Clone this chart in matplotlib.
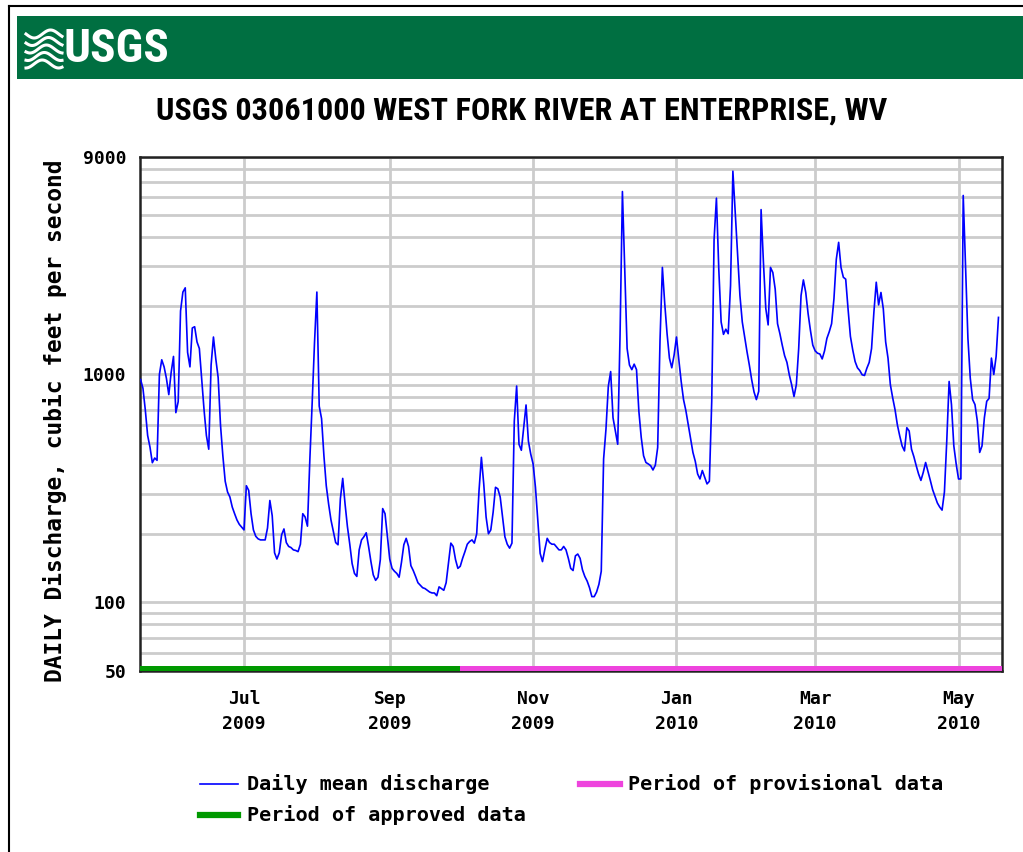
import numpy as np
import pandas as pd
import matplotlib
matplotlib.use("Agg")
import matplotlib.pyplot as plt
from matplotlib.lines import Line2D
from matplotlib.patches import Rectangle

# daily mean discharge (cfs), one value per day starting 2009-05-18
START = "2009-05-18"
discharge = [
    950, 870, 700, 540, 480, 410, 430, 420, 1000, 1160,
    1080, 960, 816, 1020, 1200, 680, 760, 1900, 2300, 2400,
    1250, 1080, 1600, 1620, 1390, 1300, 950, 700, 540, 470,
    1100, 1460, 1170, 970, 600, 440, 340, 305, 290, 262,
    245, 230, 220, 214, 208, 325, 310, 245, 208, 195,
    190, 188, 188, 188, 212, 280, 240, 165, 155, 165,
    198, 210, 183, 176, 174, 170, 169, 167, 180, 245,
    237, 216, 420, 750, 1380, 2300, 726, 640, 440, 325,
    270, 230, 205, 183, 179, 285, 350, 270, 215, 180,
    148, 134, 130, 170, 188, 194, 202, 176, 151, 132,
    125, 129, 154, 258, 245, 194, 155, 141, 137, 134,
    129, 150, 179, 191, 176, 145, 138, 130, 122, 119,
    116, 115, 113, 111, 110, 110, 107, 117, 115, 113,
    122, 149, 182, 176, 154, 141, 144, 156, 167, 180,
    185, 188, 182, 200, 310, 433, 331, 237, 200, 208,
    249, 320, 315, 290, 237, 194, 180, 173, 182, 625,
    890, 494, 465, 584, 735, 510, 447, 405, 320, 230,
    164, 151, 171, 191, 183, 180, 180, 175, 170, 170,
    176, 170, 156, 141, 138, 160, 163, 156, 139, 130,
    124, 116, 106, 106, 111, 120, 137, 426, 575, 887,
    1030, 646, 565, 494, 1500, 6350, 2900, 1300, 1100, 1050,
    1110, 1050, 690, 530, 440, 411, 405, 398, 381, 400,
    478, 1415, 2950, 2050, 1510, 1180, 1070, 1218, 1460, 1160,
    932, 776, 694, 604, 529, 455, 416, 366, 348, 379,
    354, 331, 340, 763, 3910, 5940, 2900, 1700, 1500, 1580,
    1510, 2450, 7800, 5100, 3300, 2220, 1700, 1460, 1260, 1100,
    948, 838, 776, 844, 5290, 3100, 1950, 1650, 2950, 2800,
    2370, 1670, 1510, 1345, 1210, 1130, 997, 902, 800, 902,
    1300, 2220, 2600, 2290, 1850, 1560, 1345, 1270, 1240, 1230,
    1170, 1270, 1440, 1540, 1670, 2150, 3200, 3800, 2950, 2670,
    2620, 1940, 1470, 1280, 1140, 1070, 1040, 997, 990, 1065,
    1130, 1300, 1880, 2540, 2020, 2290, 1940, 1390, 1180, 902,
    789, 700, 600, 537, 486, 462, 584, 565, 470, 436,
    398, 366, 343, 372, 411, 376, 343, 312, 292, 273,
    262, 254, 305, 511, 932, 738, 486, 405, 348, 348,
    6100, 3000, 1440, 964, 776, 738, 625, 455, 486, 646,
    763, 785, 1180, 1000, 1200, 1780,
]
dates = pd.date_range(START, periods=len(discharge), freq="D")

approved_end = pd.Timestamp("2009-10-01")
x_end = pd.Timestamp("2010-05-19 12:00")

tick_dates = pd.to_datetime(["2009-07-01", "2009-09-01", "2009-11-01",
                             "2010-01-01", "2010-03-01", "2010-05-01"])
tick_labels = ["Jul\n2009", "Sep\n2009", "Nov\n2009",
               "Jan\n2010", "Mar\n2010", "May\n2010"]
y_major = [50, 100, 1000, 9000]
y_minor = [60, 70, 80, 90] + list(range(200, 1000, 100)) + list(range(2000, 9000, 1000))

W, H = 1023, 852
MONO = "DejaVu Sans Mono"
NARROW = ["Roboto Condensed", "DejaVu Sans"]
GREEN_HDR = "#006f41"
GRID = "#cccccc"


def fx(px):
    return px / W


def fy(py):
    return 1 - py / H


fig = plt.figure(figsize=(W / 100, H / 100), dpi=100)

# page border + USGS header bar
fig.add_artist(Line2D([fx(9), fx(9)], [fy(6), 0], color="black", lw=1.5))
fig.add_artist(Line2D([fx(9), 1], [fy(6), fy(6)], color="black", lw=1.5))
fig.add_artist(Rectangle((fx(17), fy(79)), 1 - fx(17), fy(16) - fy(79),
                         color=GREEN_HDR, lw=0))
# wave mark
t = np.linspace(0, 1, 40)
for k in range(5):
    yy = 34 + k * 7.5 + 4 * np.sin(2 * np.pi * t * 1.1 + k * 0.4)
    xx = 26 + t * 36
    fig.add_artist(Line2D(fx(xx), fy(yy), color="white", lw=2.2))
fig.text(fx(64), fy(49), "USGS", color="white", fontsize=34,
         family=NARROW, stretch="condensed", weight="bold",
         va="center", ha="left")

fig.text(fx(522), fy(111), "USGS 03061000 WEST FORK RIVER AT ENTERPRISE, WV",
         fontsize=23.2, family=NARROW, stretch="condensed",
         weight="bold", ha="center", va="center")

ax = fig.add_axes([fx(140), fy(671), fx(1002) - fx(140), fy(157) - fy(671)])
ax.set_yscale("log")
ax.set_ylim(50, 9000)
ax.set_xlim(dates[0] - pd.Timedelta(hours=6), x_end)
ax.set_yticks(y_major)
ax.set_yticklabels([str(v) for v in y_major])
ax.set_yticks(y_minor, minor=True)
ax.yaxis.set_minor_formatter(matplotlib.ticker.NullFormatter())
ax.set_xticks(tick_dates)
ax.set_xticklabels(tick_labels)
ax.tick_params(length=0, which="both", labelsize=13, pad=10)
ax.tick_params(axis="x", pad=14)
for lab in ax.get_xticklabels() + ax.get_yticklabels():
    lab.set_family(MONO)
    lab.set_weight("bold")
    lab.set_linespacing(1.5)
ax.grid(True, which="both", color=GRID, lw=2)
ax.set_axisbelow(True)
for sp in ax.spines.values():
    sp.set_linewidth(1.8)
    sp.set_color("#222222")

ax.plot(dates, discharge, color="#0000ff", lw=1.2, zorder=3)

# approval status bar along the bottom
ax.fill_between([dates[0] - pd.Timedelta(days=1), approved_end], 50, 52.6,
                color="#009900", lw=0, zorder=4)
ax.fill_between([approved_end, x_end], 50, 52.6, color="#ee44dd", lw=0, zorder=4)

fig.text(fx(55), fy(421), "DAILY Discharge, cubic feet per second",
         rotation=90, family=MONO, weight="bold", fontsize=16.5,
         ha="center", va="center")

# legend
fig.add_artist(Line2D([fx(200), fx(238)], [fy(784), fy(784)], color="#0000ff", lw=1.2))
fig.text(fx(247), fy(784), "Daily mean discharge", family=MONO, weight="bold",
         fontsize=14.5, va="center")
fig.add_artist(Line2D([fx(580), fx(620)], [fy(784), fy(784)], color="#ee44dd", lw=4.5))
fig.text(fx(628), fy(784), "Period of provisional data", family=MONO, weight="bold",
         fontsize=14.5, va="center")
fig.add_artist(Line2D([fx(200), fx(238)], [fy(815), fy(815)], color="#009900", lw=4.5))
fig.text(fx(247), fy(815), "Period of approved data", family=MONO, weight="bold",
         fontsize=14.5, va="center")

fig.savefig("out.png", dpi=100)
